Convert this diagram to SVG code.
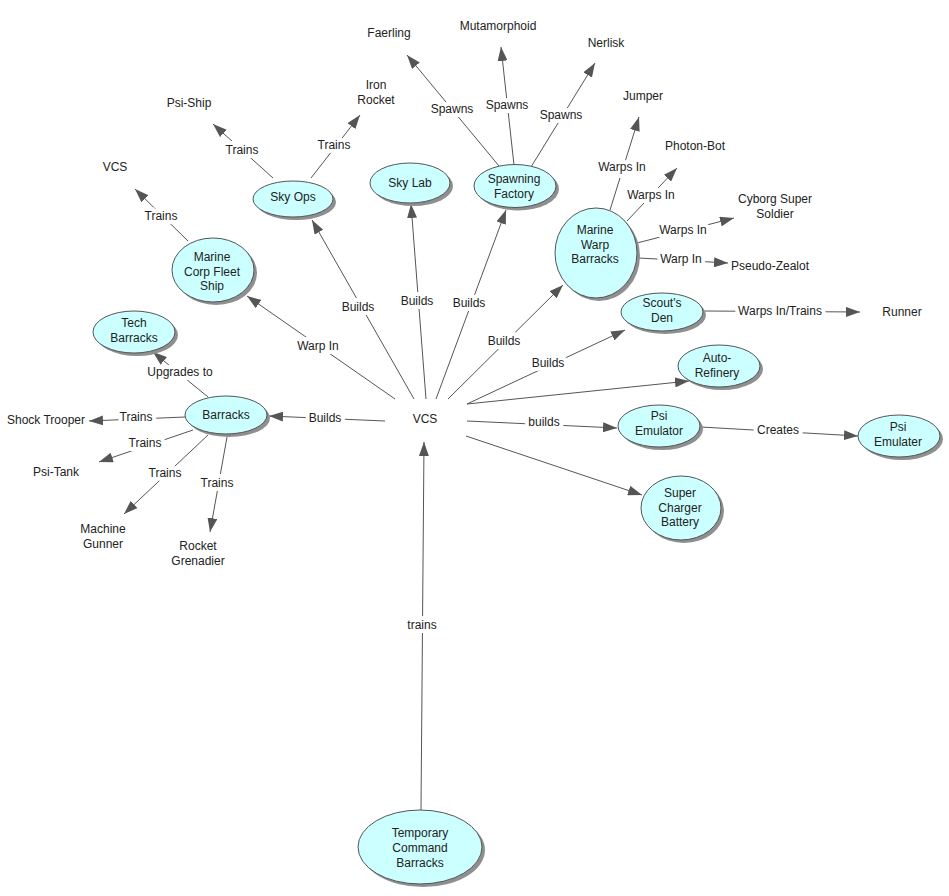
<svg xmlns="http://www.w3.org/2000/svg" width="949" height="896" viewBox="0 0 949 896">
<style>
text{font-family:"Liberation Sans",Arial,sans-serif;font-size:12px;fill:#222;text-anchor:middle}
.n ellipse.b{fill:#ccffff;stroke:#555;stroke-width:1}
.n ellipse.s{fill:#8f8f8f}
.c line{stroke:#555;stroke-width:1;fill:none}
.c line.a{marker-end:url(#arr)}
.lbl{stroke:#fff;stroke-width:8;stroke-linejoin:round;paint-order:stroke}
</style>
<defs>
<marker id="arr" markerUnits="userSpaceOnUse" markerWidth="14" markerHeight="10" refX="14" refY="5" orient="auto">
<path d="M0,0 L14,5 L0,10 z" fill="#555"/>
</marker>
</defs>
<rect width="949" height="896" fill="#fff"/>

<g id="connectors" class="c">
<line class="a" x1="395" y1="399" x2="247" y2="296"/>
<line class="a" x1="414" y1="399" x2="312" y2="220"/>
<line class="a" x1="426" y1="399" x2="411" y2="204"/>
<line class="a" x1="436" y1="399" x2="506" y2="210"/>
<line class="a" x1="448" y1="399" x2="563" y2="285"/>
<line class="a" x1="467" y1="404" x2="625" y2="330"/>
<line class="a" x1="467" y1="404" x2="689" y2="381"/>
<line class="a" x1="467" y1="421" x2="617" y2="428"/>
<line class="a" x1="466" y1="436" x2="642" y2="495"/>
<line class="a" x1="385" y1="421" x2="269" y2="416"/>
<line class="a" x1="421" y1="810" x2="424" y2="442"/>
<line class="a" x1="208" y1="397" x2="153" y2="352"/>
<line class="a" x1="185" y1="417" x2="89" y2="421"/>
<line class="a" x1="193" y1="430" x2="99" y2="462"/>
<line class="a" x1="208" y1="435" x2="124" y2="514"/>
<line class="a" x1="227" y1="437" x2="210" y2="532"/>
<line class="a" x1="188" y1="241" x2="135" y2="189"/>
<line class="a" x1="273" y1="178" x2="213" y2="124"/>
<line class="a" x1="311" y1="178" x2="360" y2="115"/>
<line class="a" x1="499" y1="166" x2="407" y2="55"/>
<line class="a" x1="514" y1="165" x2="501" y2="47"/>
<line class="a" x1="531" y1="167" x2="595" y2="63"/>
<line class="a" x1="610" y1="210" x2="639" y2="117"/>
<line class="a" x1="627" y1="221" x2="677" y2="168"/>
<line class="a" x1="637" y1="243" x2="734" y2="218"/>
<line class="a" x1="639" y1="258" x2="728" y2="263"/>
<line class="a" x1="705" y1="311" x2="860" y2="312"/>
<line class="a" x1="701" y1="427" x2="858" y2="436"/>
<g id="edge-labels">
<text class="lbl" x="318" y="350">Warp In</text>
<text class="lbl" x="358" y="311">Builds</text>
<text class="lbl" x="417" y="305">Builds</text>
<text class="lbl" x="469" y="307">Builds</text>
<text class="lbl" x="504" y="345">Builds</text>
<text class="lbl" x="548" y="367">Builds</text>
<text class="lbl" x="544" y="426">builds</text>
<text class="lbl" x="325" y="422">Builds</text>
<text class="lbl" x="422" y="629">trains</text>
<text class="lbl" x="180" y="376">Upgrades to</text>
<text class="lbl" x="136" y="421">Trains</text>
<text class="lbl" x="145" y="447">Trains</text>
<text class="lbl" x="165" y="477">Trains</text>
<text class="lbl" x="217" y="487">Trains</text>
<text class="lbl" x="161" y="220">Trains</text>
<text class="lbl" x="242" y="154">Trains</text>
<text class="lbl" x="334" y="149">Trains</text>
<text class="lbl" x="452" y="113">Spawns</text>
<text class="lbl" x="507" y="109">Spawns</text>
<text class="lbl" x="561" y="119">Spawns</text>
<text class="lbl" x="622" y="171">Warps In</text>
<text class="lbl" x="651" y="199">Warps In</text>
<text class="lbl" x="683" y="234">Warps In</text>
<text class="lbl" x="681" y="263">Warp In</text>
<text class="lbl" x="780" y="315">Warps In/Trains</text>
<text class="lbl" x="778" y="434">Creates</text>
</g>
</g>

<g id="n-vcs"><text x="425" y="423">VCS</text></g>
<g id="n-sky-ops" class="n"><ellipse class="s" cx="296" cy="202" rx="40" ry="18"/><ellipse class="b" cx="293" cy="199" rx="40" ry="18"/><text x="293" y="201">Sky Ops</text></g>
<g id="n-sky-lab" class="n"><ellipse class="s" cx="413" cy="186" rx="40" ry="20"/><ellipse class="b" cx="410" cy="183" rx="40" ry="20"/><text x="410" y="187">Sky Lab</text></g>
<g id="n-spawning-factory" class="n"><ellipse class="s" cx="518" cy="189" rx="41" ry="21.5"/><ellipse class="b" cx="515" cy="186" rx="41" ry="21.5"/><text x="514" y="183">Spawning<tspan x="514" dy="14.5">Factory</tspan></text></g>
<g id="n-marine-corp-fleet-ship" class="n"><ellipse class="s" cx="216" cy="273" rx="41" ry="32"/><ellipse class="b" cx="213" cy="270" rx="41" ry="32"/><text x="212" y="261">Marine<tspan x="212" dy="14.5">Corp Fleet</tspan><tspan x="212" dy="14.5">Ship</tspan></text></g>
<g id="n-marine-warp-barracks" class="n"><ellipse class="s" cx="599" cy="256" rx="41" ry="45"/><ellipse class="b" cx="596" cy="253" rx="41" ry="45"/><text x="595" y="234">Marine<tspan x="595" dy="14.5">Warp</tspan><tspan x="595" dy="14.5">Barracks</tspan></text></g>
<g id="n-scouts-den" class="n"><ellipse class="s" cx="665" cy="315" rx="41" ry="19"/><ellipse class="b" cx="662" cy="312" rx="41" ry="19"/><text x="662" y="307">Scout's<tspan x="662" dy="14.5">Den</tspan></text></g>
<g id="n-auto-refinery" class="n"><ellipse class="s" cx="722" cy="369" rx="41" ry="21"/><ellipse class="b" cx="719" cy="366" rx="41" ry="21"/><text x="717" y="362">Auto-<tspan x="717" dy="14.5">Refinery</tspan></text></g>
<g id="n-psi-emulator" class="n"><ellipse class="s" cx="662" cy="429" rx="41" ry="21"/><ellipse class="b" cx="659" cy="426" rx="41" ry="21"/><text x="659" y="420">Psi<tspan x="659" dy="14.5">Emulator</tspan></text></g>
<g id="n-psi-emulater" class="n"><ellipse class="s" cx="902" cy="439" rx="41" ry="21"/><ellipse class="b" cx="899" cy="436" rx="41" ry="21"/><text x="898" y="431">Psi<tspan x="898" dy="14.5">Emulater</tspan></text></g>
<g id="n-super-charger-battery" class="n"><ellipse class="s" cx="684" cy="511" rx="40" ry="32"/><ellipse class="b" cx="681" cy="508" rx="40" ry="32"/><text x="680" y="497">Super<tspan x="680" dy="14.5">Charger</tspan><tspan x="680" dy="14.5">Battery</tspan></text></g>
<g id="n-tech-barracks" class="n"><ellipse class="s" cx="137" cy="335" rx="41" ry="21"/><ellipse class="b" cx="134" cy="332" rx="41" ry="21"/><text x="134" y="327">Tech<tspan x="134" dy="14.5">Barracks</tspan></text></g>
<g id="n-barracks" class="n"><ellipse class="s" cx="229" cy="418" rx="41" ry="19"/><ellipse class="b" cx="226" cy="415" rx="41" ry="19"/><text x="226" y="419">Barracks</text></g>
<g id="n-temporary-command-barracks" class="n"><ellipse class="s" cx="423" cy="850" rx="62" ry="37"/><ellipse class="b" cx="420" cy="847" rx="62" ry="37"/><text x="420" y="837">Temporary<tspan x="420" dy="15">Command</tspan><tspan x="420" dy="15">Barracks</tspan></text></g>

<g id="n-faerling"><text x="389" y="37">Faerling</text></g>
<g id="n-mutamorphoid"><text x="498" y="30">Mutamorphoid</text></g>
<g id="n-nerlisk"><text x="606" y="47">Nerlisk</text></g>
<g id="n-iron-rocket"><text x="376" y="89">Iron<tspan x="376" dy="14.5">Rocket</tspan></text></g>
<g id="n-psi-ship"><text x="189" y="107">Psi-Ship</text></g>
<g id="n-vcs-top"><text x="115" y="171">VCS</text></g>
<g id="n-jumper"><text x="643" y="100">Jumper</text></g>
<g id="n-photon-bot"><text x="695" y="150">Photon-Bot</text></g>
<g id="n-cyborg-super-soldier"><text x="775" y="203">Cyborg Super<tspan x="775" dy="14.5">Soldier</tspan></text></g>
<g id="n-pseudo-zealot"><text x="770" y="270">Pseudo-Zealot</text></g>
<g id="n-runner"><text x="902" y="316">Runner</text></g>
<g id="n-shock-trooper"><text x="46" y="424">Shock Trooper</text></g>
<g id="n-psi-tank"><text x="56" y="476">Psi-Tank</text></g>
<g id="n-machine-gunner"><text x="103" y="533">Machine<tspan x="103" dy="14.5">Gunner</tspan></text></g>
<g id="n-rocket-grenadier"><text x="198" y="550">Rocket<tspan x="198" dy="14.5">Grenadier</tspan></text></g>
</svg>
